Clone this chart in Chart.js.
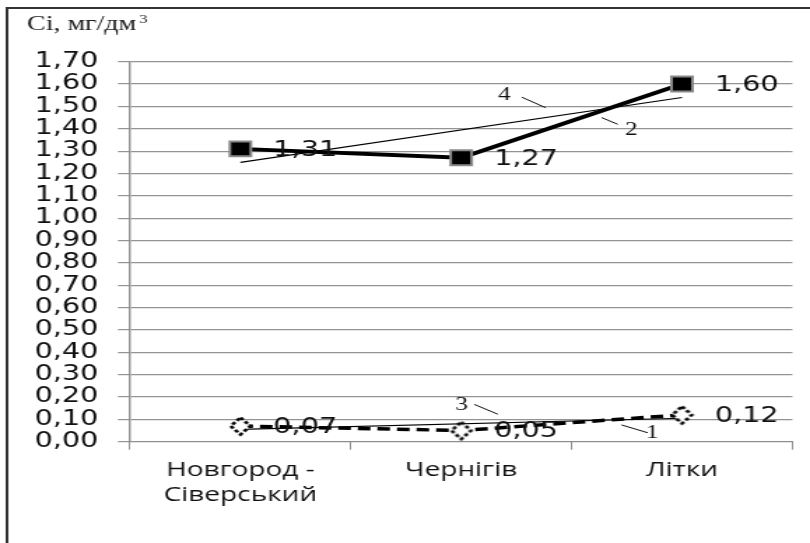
<!DOCTYPE html>
<html>
<head>
<meta charset="utf-8">
<script src="https://cdn.jsdelivr.net/npm/chart.js@4/dist/chart.umd.min.js"></script>
<style>
  html, body { margin: 0; padding: 0; background: #fff; overflow: hidden; }
  /* the drawing is laid out on a narrower canvas and widened to the page */
  #wrap { position: absolute; left: 0; top: 0; width: 579px; height: 543px;
          transform: scaleX(1.39896); transform-origin: 0 0; }
</style>
</head>
<body>
<div id="wrap"><canvas id="c"></canvas></div>
<script>
// Sampling sites
const categories = [['Новгород -', 'Сіверський'], 'Чернігів', 'Літки'];
// Curve 1 (dashed, diamonds) and curve 2 (solid, squares), mg/dm3
const curve1 = [0.07, 0.05, 0.12];
const curve2 = [1.31, 1.27, 1.60];
// Linear trends: 3 for curve 1, 4 for curve 2 (end points only)
const trend3 = [0.055, null, 0.105];
const trend4 = [1.25, null, 1.54];
// Value axis
const yMin = 0;
const yMax = 1.7;
const yStep = 0.1;
const axisTitle = 'Ci, мг/дм';

// Curve numbers with their leader lines, in [category index, value] units
const callouts = [
  { label: '4', text: [1.195, 1.551], from: [1.275, 1.541], to: [1.383, 1.494] },
  { label: '2', text: [1.770, 1.395], from: [1.636, 1.450], to: [1.709, 1.420] },
  { label: '3', text: [1.002, 0.164], from: [1.059, 0.167], to: [1.166, 0.123] },
  { label: '1', text: [1.866, 0.039], from: [1.726, 0.075], to: [1.845, 0.040] }
];

const fmt = v => Number(v).toFixed(2).replace('.', ',');

// white diamond with a dotted outline for curve 1
function dottedDiamond() {
  const c = document.createElement('canvas');
  c.width = 20; c.height = 22;
  const g = c.getContext('2d');
  g.beginPath();
  g.moveTo(10, 2.5); g.lineTo(17, 11); g.lineTo(10, 19.5); g.lineTo(3, 11);
  g.closePath();
  g.fillStyle = '#fff';
  g.fill();
  g.setLineDash([3, 2]);
  g.lineWidth = 2.6;
  g.strokeStyle = '#000';
  g.stroke();
  return c;
}

const pageFrame = {
  id: 'pageFrame',
  beforeDraw(chart) {
    const ctx = chart.ctx;
    ctx.save();
    ctx.fillStyle = '#fff';
    ctx.fillRect(0, 0, chart.width, chart.height);
    ctx.restore();
  },
  afterDraw(chart) {
    const ctx = chart.ctx;
    ctx.save();
    ctx.strokeStyle = '#333';
    ctx.lineWidth = 2;
    ctx.beginPath();
    ctx.moveTo(5, chart.height + 5);
    ctx.lineTo(5, 8);
    ctx.lineTo(chart.width + 5, 8);
    ctx.stroke();
    // value axis caption
    ctx.fillStyle = '#222';
    ctx.textBaseline = 'alphabetic';
    ctx.textAlign = 'left';
    ctx.font = '20px "Liberation Serif", "Times New Roman", serif';
    ctx.fillText(axisTitle, 19.3, 30);
    const w = ctx.measureText(axisTitle).width;
    ctx.font = '12px "Liberation Serif", "Times New Roman", serif';
    ctx.fillText('3', 19.3 + w + 2, 23);
    ctx.restore();
  }
};

const valueLabels = {
  id: 'valueLabels',
  afterDatasetsDraw(chart) {
    const ctx = chart.ctx;
    ctx.save();
    ctx.font = '20.5px "DejaVu Sans", sans-serif';
    ctx.fillStyle = '#111';
    ctx.textAlign = 'left';
    ctx.textBaseline = 'middle';
    [0, 1].forEach(di => {
      const meta = chart.getDatasetMeta(di);
      const data = chart.data.datasets[di].data;
      meta.data.forEach((pt, i) => {
        ctx.fillText(fmt(data[i]), pt.x + 23.5, pt.y + 1.5);
      });
    });
    ctx.restore();
  }
};

const curveNumbers = {
  id: 'curveNumbers',
  afterDatasetsDraw(chart) {
    const ctx = chart.ctx;
    const xs = chart.scales.x, ys = chart.scales.y;
    const px = p => [xs.getPixelForValue(p[0]), ys.getPixelForValue(p[1])];
    ctx.save();
    ctx.strokeStyle = '#111';
    ctx.lineWidth = 1;
    ctx.fillStyle = '#111';
    ctx.font = '18px "Liberation Serif", "Times New Roman", serif';
    ctx.textAlign = 'center';
    ctx.textBaseline = 'middle';
    callouts.forEach(c => {
      const a = px(c.from), b = px(c.to), t = px(c.text);
      ctx.beginPath();
      ctx.moveTo(a[0], a[1]);
      ctx.lineTo(b[0], b[1]);
      ctx.stroke();
      ctx.fillText(c.label, t[0], t[1]);
    });
    ctx.restore();
  }
};

new Chart(document.getElementById('c'), {
  type: 'line',
  data: {
    labels: categories,
    datasets: [
      {
        data: curve2,
        borderColor: '#000',
        borderWidth: 4,
        pointStyle: 'rect',
        pointRadius: 10.6,
        pointBackgroundColor: '#000',
        pointBorderColor: '#8a8a8a',
        pointBorderWidth: 2,
        tension: 0,
        fill: false
      },
      {
        data: curve1,
        borderColor: '#000',
        borderWidth: 3.5,
        borderDash: [9, 5],
        pointStyle: dottedDiamond(),
        pointRadius: 8,
        tension: 0,
        fill: false
      },
      {
        data: trend4,
        borderColor: '#000',
        borderWidth: 1.2,
        pointRadius: 0,
        spanGaps: true,
        fill: false
      },
      {
        data: trend3,
        borderColor: '#000',
        borderWidth: 1.2,
        pointRadius: 0,
        spanGaps: true,
        fill: false
      }
    ]
  },
  options: {
    responsive: true,
    maintainAspectRatio: false,
    animation: false,
    events: [],
    layout: { padding: { top: 61.7, right: 7.4, left: 0, bottom: 0 } },
    plugins: { legend: { display: false }, tooltip: { enabled: false }, title: { display: false } },
    scales: {
      x: {
        type: 'category',
        offset: true,
        grid: { offset: true, drawOnChartArea: false, drawTicks: true, tickLength: 8, color: '#8f8f8f', lineWidth: 1 },
        border: { display: true, color: '#8f8f8f', width: 1 },
        ticks: {
          font: { family: '"Open Sans", sans-serif', size: 20, lineHeight: 1.25 },
          color: '#111',
          padding: 8,
          maxRotation: 0,
          autoSkip: false
        },
        afterFit(s) { s.height = 101.3; }
      },
      y: {
        min: yMin,
        max: yMax,
        grid: { color: '#939393', lineWidth: 1.2, tickLength: 8.6 },
        border: { color: '#8f8f8f', width: 1.4 },
        ticks: {
          stepSize: yStep,
          autoSkip: false,
          callback: v => fmt(v),
          font: { family: '"DejaVu Sans", sans-serif', size: 20.5 },
          color: '#111',
          padding: 14
        },
        afterFit(s) { s.width = 92.9; }
      }
    }
  },
  plugins: [pageFrame, valueLabels, curveNumbers]
});
</script>
</body>
</html>
